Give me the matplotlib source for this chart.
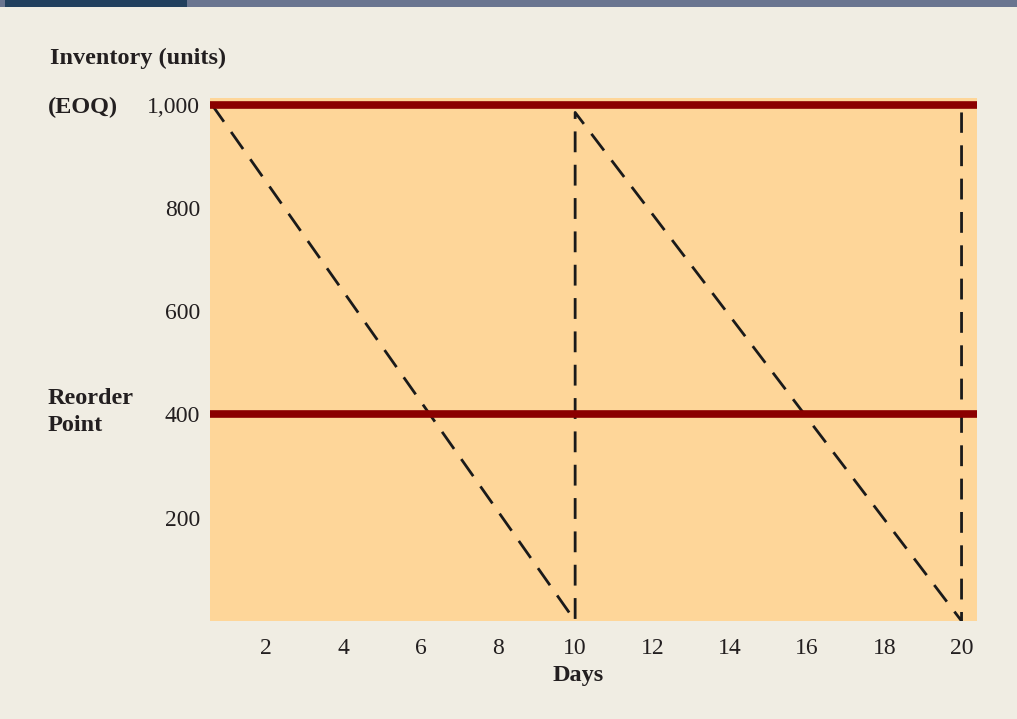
"""
EOQ inventory cycle: sawtooth inventory level with reorder point.
"""

import matplotlib
matplotlib.use("Agg")
import matplotlib.pyplot as plt
from matplotlib.patches import Rectangle

# ================================================================
# DATA
# ================================================================

days = [0.6, 10, 10, 20, 20]
inventory = [1000, 0, 985, 0, 985]
eoq = 1000
reorder_point = 400
x_ticks = [2, 4, 6, 8, 10, 12, 14, 16, 18, 20]
y_ticks = [200, 400, 600, 800, 1000]
y_tick_labels = ["200", "400", "600", "800", "1,000"]

BG = "#F0EDE3"
PLOT_BG = "#FED699"
RED = "#8B0000"
TEXT = "#231F20"

plt.rcParams["font.family"] = ["Liberation Serif", "DejaVu Serif"]

fig = plt.figure(figsize=(10.17, 7.19), dpi=100, facecolor=BG)
W, H = 1017, 719

# top banner
fig.patches.append(Rectangle((0, 1 - 7 / H), 1, 7 / H, transform=fig.transFigure,
                             facecolor="#6A7590", edgecolor="none"))
fig.patches.append(Rectangle((5 / W, 1 - 7 / H), (187 - 5) / W, 7 / H,
                             transform=fig.transFigure,
                             facecolor="#22405E", edgecolor="none"))

ax = fig.add_axes([210 / W, 1 - 621 / H, (977 - 210) / W, (621 - 98) / H])
ax.set_facecolor(PLOT_BG)

ax.plot(days, inventory, color="#1A1A1A", linewidth=2, linestyle=(0, (7.5, 4.5)),
        zorder=2)
ax.axhline(eoq, color=RED, linewidth=5.5, zorder=3)
ax.axhline(reorder_point, color=RED, linewidth=5.5, zorder=3)

ax.set_xlim(0.55, 20.4)
ax.set_ylim(0, 1013)
ax.set_xticks(x_ticks)
ax.set_yticks(y_ticks)
ax.set_yticklabels(y_tick_labels)
ax.tick_params(length=0, labelsize=17, colors=TEXT, pad=7)
ax.tick_params(axis="x", pad=12)
for s in ax.spines.values():
    s.set_visible(False)

fig.text(50 / W, 1 - 58 / H, "Inventory (units)", fontsize=17.5, fontweight="bold",
         color=TEXT, va="center", ha="left")
fig.text(48 / W, 1 - 107 / H, "(EOQ)", fontsize=17.5, fontweight="bold",
         color=TEXT, va="center", ha="left")
fig.text(48 / W, 1 - 412 / H, "Reorder\nPoint", fontsize=17.5, fontweight="bold",
         color=TEXT, va="center", ha="left", linespacing=1.35)
fig.text(578 / W, 1 - 676 / H, "Days", fontsize=17.5, fontweight="bold",
         color=TEXT, va="center", ha="center")

fig.savefig("out.png", dpi=100, facecolor=BG)
